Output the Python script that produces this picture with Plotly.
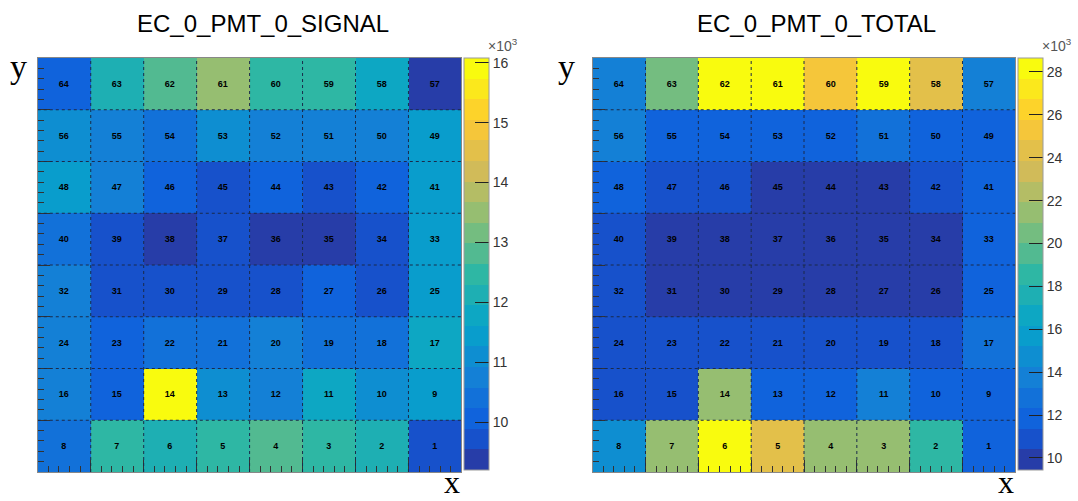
import numpy as np
import plotly.graph_objects as go

W, H = 1078, 501

# 8x8 channel map, rows listed from top (y bin 8) to bottom (y bin 1),
# columns from left (x bin 1) to right (x bin 8)
signal_rows = [
    [10050, 12110, 12830, 13490, 12450, 12520, 11760, 9200],
    [11120, 10730, 10390, 11050, 10790, 10700, 10760, 11450],
    [11480, 10810, 10080, 9730, 10020, 9770, 10110, 11390],
    [10420, 9690, 9350, 9750, 9400, 9330, 9820, 11530],
    [10700, 9700, 9760, 9730, 9680, 10040, 9790, 11420],
    [10770, 10090, 10380, 10440, 10820, 10360, 10430, 11800],
    [10740, 10000, 16080, 11150, 10710, 11830, 11080, 11510],
    [10410, 12480, 12140, 12430, 12790, 12500, 12090, 9710],
]
total_rows = [
    [13700, 20520, 28210, 27950, 25310, 28650, 24280, 13820],
    [13650, 11900, 11780, 11860, 11820, 12790, 11910, 11750],
    [11800, 10900, 10850, 9980, 9850, 10020, 10930, 11720],
    [10880, 9700, 9760, 9820, 9690, 9740, 9880, 11690],
    [10840, 9560, 9620, 9580, 9600, 9640, 9440, 11780],
    [10950, 10780, 10860, 10900, 10830, 10870, 10810, 12850],
    [10920, 10760, 21400, 11880, 11930, 13790, 11850, 11810],
    [14700, 21480, 28300, 24350, 21420, 21510, 18600, 11700],
]
titles = ["EC_0_PMT_0_SIGNAL", "EC_0_PMT_0_TOTAL"]
x_centers = [0.5, 1.5, 2.5, 3.5, 4.5, 5.5, 6.5, 7.5]
y_centers = [0.5, 1.5, 2.5, 3.5, 4.5, 5.5, 6.5, 7.5]
signal_ticks = [10, 11, 12, 13, 14, 15, 16]
total_ticks = [10, 12, 14, 16, 18, 20, 22, 24, 26, 28]

# channel number printed in each cell: 1 at bottom-right, 64 at top-left
labels_bottom_up = [[str(r * 8 + (8 - c)) for c in range(8)] for r in range(8)]

# ROOT kBird palette
stops = [0.0, 0.125, 0.25, 0.375, 0.5, 0.625, 0.75, 0.875, 1.0]
red = [0.2082, 0.0592, 0.0780, 0.0232, 0.1802, 0.5301, 0.8186, 0.9956, 0.9764]
green = [0.1664, 0.3599, 0.5041, 0.6419, 0.7178, 0.7492, 0.7328, 0.7862, 0.9832]
blue = [0.5293, 0.8684, 0.8385, 0.7914, 0.6425, 0.4662, 0.3499, 0.1968, 0.0539]


def bird(t):
    r = np.interp(t, stops, red)
    g = np.interp(t, stops, green)
    b = np.interp(t, stops, blue)
    return "rgb(%d,%d,%d)" % (round(r * 255), round(g * 255), round(b * 255))


def contour_scale(ndiv=20, ncol=255):
    scale = []
    for k in range(ndiv):
        idx = int((k + 0.99) * ncol / ndiv)
        idx = min(idx, ncol - 1)
        c = bird(idx / (ncol - 1))
        scale.append([k / ndiv, c])
        scale.append([(k + 1) / ndiv, c])
    return scale


cscale = contour_scale()

# pad geometry in pixels
plots = [
    dict(x0=38, x1=464, cb=467),
    dict(x0=596, x1=1021, cb=1024),
]
ytop, ybot = 58, 472
cb_top, cb_bot = 58, 470

fig = go.Figure()
datasets = [signal_rows, total_rows]
tickvals_list = [signal_ticks, total_ticks]
for i, rows in enumerate(datasets):
    z = np.array(rows[::-1], dtype=float)  # bottom row first
    zmin, zmax = z.min(), z.max()
    p = plots[i]
    xa = "x" if i == 0 else "x2"
    ya = "y" if i == 0 else "y2"
    tv = tickvals_list[i]
    fig.add_trace(go.Heatmap(
        z=z, x=x_centers, y=y_centers,
        zmin=zmin, zmax=zmax,
        colorscale=cscale,
        text=labels_bottom_up,
        texttemplate="%{text}",
        textfont=dict(family="Liberation Sans, Arial", size=9, color="black", weight="bold"),
        xaxis=xa, yaxis=ya,
        hoverinfo="skip",
        colorbar=dict(
            x=p["cb"] / W, xanchor="left", xref="paper",
            y=1 - cb_top / H, yanchor="top", yref="paper",
            len=cb_bot - cb_top, lenmode="pixels",
            thickness=25, thicknessmode="pixels",
            outlinewidth=1, outlinecolor="#9a9a9a",
            ticks="inside", ticklen=14, tickwidth=1, tickcolor="#222",
            tickvals=[v * 1000 for v in tv],
            ticktext=[str(v) for v in tv],
            tickfont=dict(family="Liberation Sans, Arial", size=14, color="#333"),
            xpad=0, ypad=0,
        ),
    ))

axis_common = dict(
    range=[0, 8], showticklabels=False, zeroline=False,
    showgrid=False, showline=True, linecolor="#888", linewidth=1, mirror=True,
    ticks="inside", dtick=1, tick0=0, ticklen=12, tickcolor="#333", tickwidth=1,
    minor=dict(ticks="inside", dtick=0.2, tick0=0, ticklen=6, tickcolor="#333", tickwidth=1, showgrid=False),
    layer="above traces", fixedrange=True,
)

for i, p in enumerate(plots):
    sx = "" if i == 0 else "2"
    fig.update_layout(**{
        "xaxis" + sx: dict(axis_common, domain=[p["x0"] / W, p["x1"] / W],
                           anchor="y" + sx),
        "yaxis" + sx: dict(axis_common, domain=[1 - ybot / H, 1 - ytop / H],
                           anchor="x" + sx),
    })
    # dotted grid along bin edges, drawn over the cells
    xref, yref = "x" + sx, "y" + sx
    for e in range(1, 8):
        fig.add_shape(type="line", xref=xref, yref=yref, x0=e, x1=e, y0=0, y1=8,
                      line=dict(color="#1a2a4a", width=1, dash="dot"), layer="above")
        fig.add_shape(type="line", xref=xref, yref=yref, x0=0, x1=8, y0=e, y1=e,
                      line=dict(color="#1a2a4a", width=1, dash="dot"), layer="above")

annotations = []
title_centers = [264.5, 821.5]
for i, t in enumerate(titles):
    annotations.append(dict(
        text=t, x=title_centers[i] / W, y=1 - 23.5 / H, xref="paper", yref="paper",
        xanchor="center", yanchor="middle", showarrow=False,
        font=dict(family="Liberation Sans, Arial", size=24, color="black"),
    ))
# axis letters
for xp, yp in [(19, 66), (570, 66)]:
    annotations.append(dict(text="y", x=xp / W, y=1 - yp / H, xref="paper", yref="paper",
                            xanchor="center", yanchor="middle", showarrow=False,
                            font=dict(family="Liberation Serif, Times New Roman", size=34, color="black")))
for xp in [455, 1012]:
    annotations.append(dict(text="x", x=xp / W, y=0, xref="paper", yref="paper",
                            xanchor="center", yanchor="bottom", showarrow=False,
                            borderpad=0,
                            font=dict(family="Liberation Serif, Times New Roman", size=32, color="black")))
# exponent marks on the palettes
for xp in [506, 1063]:
    annotations.append(dict(text="×10<sup>3</sup>", x=xp / W, y=1 - 45 / H, xref="paper", yref="paper",
                            xanchor="center", yanchor="middle", showarrow=False, borderpad=0,
                            font=dict(family="Liberation Sans, Arial", size=14, color="#555")))

fig.update_layout(
    width=W, height=H,
    margin=dict(l=0, r=0, t=0, b=0),
    paper_bgcolor="white", plot_bgcolor="white",
    annotations=annotations,
    showlegend=False,
)

fig.write_html("out.html")
